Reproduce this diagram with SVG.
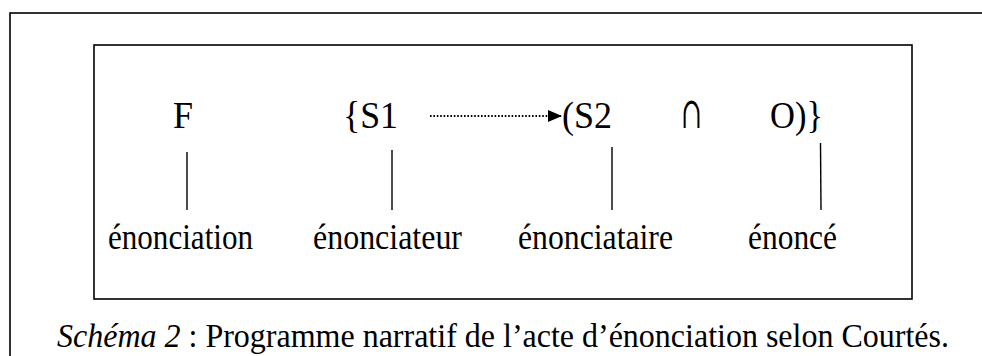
<svg xmlns="http://www.w3.org/2000/svg" width="982" height="356" viewBox="0 0 982 356">
<style>
.frame{fill:none;stroke:#000;stroke-width:1.6}
.big{font-family:"Liberation Serif","Times New Roman",serif;font-size:38px;fill:#000}
.sym{font-family:"DejaVu Serif","Liberation Serif",serif;font-size:44px;fill:#000}
.lbl{font-family:"Liberation Serif","Times New Roman",serif;font-size:36px;fill:#000}
.cap{font-family:"Liberation Serif","Times New Roman",serif;font-size:33px;fill:#000}
.tick{stroke:#000;stroke-width:1.4;fill:none}
.dots{stroke:#000;stroke-width:2.2;stroke-dasharray:1.6 1.8;fill:none}
</style>
<defs>
<marker id="ah" viewBox="0 0 14 12" refX="14" refY="6" markerWidth="14" markerHeight="12" markerUnits="userSpaceOnUse" orient="auto">
<path d="M0,0 L14,6 L0,12 Z" fill="#000"/>
</marker>
</defs>
<rect width="982" height="356" fill="#fff"/>
<rect id="outer" class="frame" x="10" y="13" width="1000" height="400"/>
<rect id="inner" class="frame" x="94" y="45" width="818" height="254"/>
<g id="node-F"><text class="big" x="173" y="128" textLength="20" lengthAdjust="spacingAndGlyphs">F</text></g>
<g id="node-S1"><text class="big" x="343" y="128" textLength="55" lengthAdjust="spacingAndGlyphs">{S1</text></g>
<g id="node-S2"><text class="big" x="562" y="128" textLength="50" lengthAdjust="spacingAndGlyphs">(S2</text></g>
<g id="node-cap"><text class="sym" x="681" y="128" textLength="21" lengthAdjust="spacingAndGlyphs">∩</text></g>
<g id="node-O"><text class="big" x="770" y="128" textLength="53" lengthAdjust="spacingAndGlyphs">O)}</text></g>
<g id="label-enonciation"><text class="lbl" x="108" y="249" textLength="145" lengthAdjust="spacingAndGlyphs">énonciation</text></g>
<g id="label-enonciateur"><text class="lbl" x="313" y="249" textLength="149" lengthAdjust="spacingAndGlyphs">énonciateur</text></g>
<g id="label-enonciataire"><text class="lbl" x="518" y="249" textLength="155" lengthAdjust="spacingAndGlyphs">énonciataire</text></g>
<g id="label-enonce"><text class="lbl" x="748" y="249" textLength="89" lengthAdjust="spacingAndGlyphs">énoncé</text></g>
<g id="connectors">
<line class="dots" x1="430" y1="116" x2="562" y2="116" marker-end="url(#ah)"/>
<line class="tick" x1="187" y1="152" x2="187" y2="210"/>
<line class="tick" x1="392" y1="150" x2="392" y2="210"/>
<line class="tick" x1="612" y1="147" x2="612" y2="210"/>
<line class="tick" x1="820.5" y1="143" x2="821" y2="210"/>
</g>
<g id="caption"><text class="cap" x="57" y="347" textLength="892" lengthAdjust="spacingAndGlyphs"><tspan font-style="italic">Schéma 2</tspan> : Programme narratif de l’acte d’énonciation selon Courtés.</text></g>
</svg>
